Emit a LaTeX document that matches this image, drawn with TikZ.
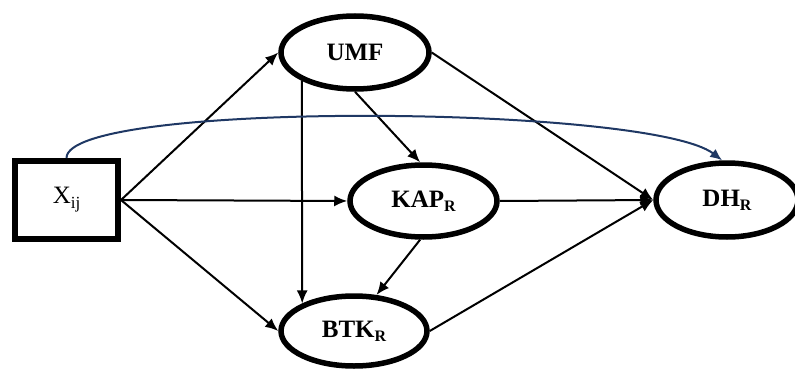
\documentclass[tikz,border=0pt]{standalone}
\usepackage{fontspec}
\setmainfont{Liberation Serif}
\usetikzlibrary{shapes.geometric,arrows.meta}
\definecolor{curveblue}{RGB}{31,56,100}
\begin{document}
\begin{tikzpicture}[x=1pt,y=-1pt,
  latent/.style={ellipse,draw,line width=5.5pt,fill=white,inner sep=0pt,
    font=\bfseries\fontsize{25}{25}\selectfont},
  obsbox/.style={rectangle,draw,line width=6pt,fill=white,inner sep=0pt,
    minimum width=103pt,minimum height=78pt,font=\fontsize{25}{25}\selectfont},
  path/.style={line width=2pt,-{Latex[length=13pt,width=11pt]}},
  curvepath/.style={line width=2pt,draw=curveblue,-{Latex[length=12pt,width=10pt]},curveblue}
]
\useasboundingbox (0,0) rectangle (795,369);
\newcommand{\sbR}{\raisebox{-4pt}{\fontsize{16}{16}\selectfont R}}
\node[obsbox] (X) at (66.5,200) {X\raisebox{-5pt}{\fontsize{17}{17}\selectfont ij}};
\node[latent,minimum width=148pt,minimum height=73pt] (UMF) at (355,52.5) {UMF};
\node[latent,minimum width=147pt,minimum height=72pt] (KAP) at (423.5,201) {KAP\sbR};
\node[latent,minimum width=142pt,minimum height=74pt] (DH) at (727,200) {DH\sbR};
\node[latent,minimum width=146pt,minimum height=70pt] (BTK) at (354,331) {BTK\sbR};
\draw[path] (X.east) -- (UMF.west);
\draw[path] (X.east) -- (KAP.west);
\draw[path] (X.east) -- (BTK.west);
\draw[path] (UMF.208.4) -- (BTK.152.3);
\draw[path] (UMF.south) -- (KAP.95);
\draw[path] (UMF.east) -- (DH.west);
\draw[path] (KAP.east) -- (DH.west);
\draw[path] (KAP.-95) -- (BTK.58);
\draw[path] (BTK.east) -- (DH.west);
\draw[curvepath] (X.north) .. controls (67,100) and (650,105) .. (DH.97);
\end{tikzpicture}
\end{document}
